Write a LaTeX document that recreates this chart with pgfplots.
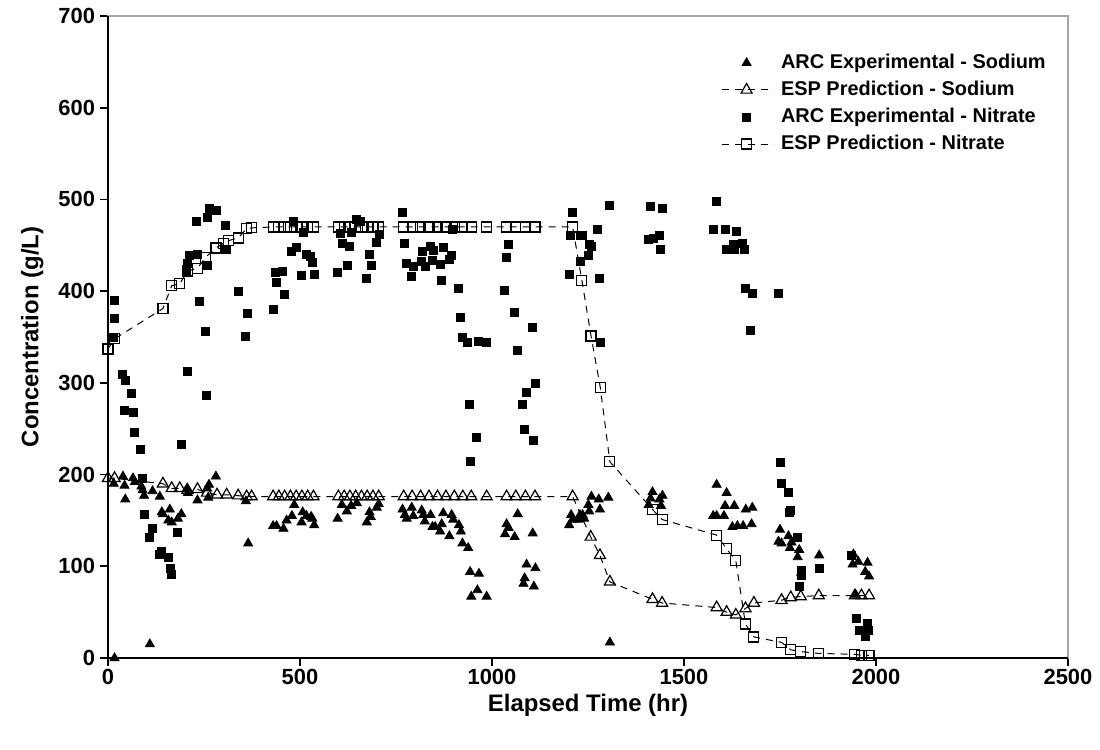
\documentclass[border=0pt]{standalone}
\usepackage{fontspec}
\setmainfont{Liberation Sans}
\usepackage{pgfplots}
\pgfplotsset{compat=1.18}

\pgfplotsset{
  arcmark/.style={only marks, black, mark options={solid}},
  espline/.style={black, line width=0.5bp, dash pattern=on 3.5bp off 3bp,
    mark options={solid, line width=0.6bp}},
}

\begin{document}
\begin{tikzpicture}
\useasboundingbox (-54bp,-46bp) rectangle (496bp,329bp);
\begin{axis}[
  at={(0,0)}, anchor=south west,
  scale only axis, width=480bp, height=321bp,
  xmin=0, xmax=2500, ymin=0, ymax=700,
  xtick distance=500, ytick distance=100,
  tick align=outside, tick pos=left, major tick length=4bp,
  tick style={black, line width=0.8bp},
  axis line style={gray!70, line width=0.8bp},
  clip=false,
  /pgf/number format/assume math mode=true,
  /pgf/number format/1000 sep={},
  tick label style={font=\fontsize{11}{13}\selectfont\bfseries},
  xticklabel style={yshift=2bp},
  yticklabel style={xshift=1bp},
  xlabel={Elapsed Time (hr)},
  ylabel={Concentration (g/L)},
  every axis x label/.style={at={(axis description cs:0.5,-0.073)}, anchor=center,
    font=\fontsize{12}{14}\selectfont\bfseries},
  every axis y label/.style={at={(axis description cs:-0.079,0.5)}, rotate=90, anchor=center,
    font=\fontsize{12}{14}\selectfont\bfseries},
  legend style={draw=none, fill=none, at={(axis description cs:0.632,0.952)}, anchor=north west,
    font=\fontsize{10}{12}\selectfont\bfseries, row sep=1.8bp,
    nodes={inner xsep=1.5bp, inner ysep=1.5bp},
    /tikz/every odd column/.append style={column sep=2bp}},
  legend cell align=left,
  legend image code/.code={\draw[mark repeat=2,mark phase=2,#1]
    plot coordinates {(0bp,0bp)(12.5bp,0bp)(26bp,0bp)};},
]

% ARC Experimental - Sodium
\addplot[arcmark, mark=triangle*, mark size=2.6bp] coordinates {
(17,0) (109,15)
(15,190) (39,198) (43,188) (45,173) (65,196) (70,192) (87,187) (90,183) (94,177)
(116,182) (135,176) (140,159) (143,157) (161,162) (157,150) (166,148) (182,152)
(191,157) (206,185) (208,180) (233,172) (258,185) (263,189) (281,198) (261,175)
(359,171) (365,125)
(430,144) (439,144) (457,141) (465,150) (479,155) (485,167) (504,148) (507,159)
(517,155) (529,154) (532,152) (537,145)
(598,152) (609,167) (622,160) (633,166) (648,169) (674,148) (681,159) (684,154)
(700,164) (705,168)
(767,162) (773,156) (778,152) (791,164) (795,155) (817,161) (821,156) (825,149)
(840,156) (845,143) (852,143) (865,138) (869,146) (873,158) (889,133) (895,156)
(899,151) (914,145) (919,138) (923,125) (938,120) (943,94) (966,92) (962,74)
(946,67) (986,67)
(1034,135) (1038,146) (1043,142) (1059,132) (1067,157) (1106,136) (1090,102)
(1113,98) (1085,87) (1082,81) (1109,78)
(1201,145) (1206,156) (1210,151) (1225,151) (1229,156) (1236,156) (1240,152)
(1253,160) (1251,167) (1259,176) (1278,173) (1281,162) (1303,175) (1307,17)
(1418,181) (1413,174) (1436,173) (1444,177) (1408,167) (1440,166)
(1585,189) (1611,180) (1607,166) (1631,166) (1661,162) (1678,164) (1576,155)
(1585,155) (1604,155) (1626,143) (1639,144) (1654,144) (1676,146)
(1750,140) (1746,127) (1754,125) (1772,133) (1780,126) (1776,120) (1800,118)
(1796,110) (1805,93) (1852,112)
(1941,113) (1954,105) (1939,102) (1978,104) (1972,94) (1982,89) (1947,69)
};
\addlegendentry{ARC Experimental - Sodium}

% ESP Prediction - Sodium
\addplot[espline, mark=triangle, mark size=3.2bp] coordinates {
(0,196) (17,196) (143,190) (166,185) (187,185) (207,183) (233,184) (258,180)
(284,178) (309,178) (339,177) (361,176) (374,176)
(430,176) (445,176) (460,176) (475,176) (490,176) (505,176) (520,176) (535,176)
(600,176) (615,176) (630,176) (645,176) (660,176) (675,176) (690,176) (705,176)
(770,176) (792,176) (814,176) (836,176) (858,176) (880,176) (902,176) (924,176)
(946,176) (986,176) (1038,176) (1062,176) (1087,176) (1112,176) (1210,176)
(1257,132) (1281,112) (1307,83) (1418,64) (1443,60) (1585,55) (1611,50)
(1635,47) (1660,54) (1682,60) (1754,63) (1778,66) (1804,67) (1851,68)
(1945,68) (1962,68) (1982,68)
};
\addlegendentry{ESP Prediction - Sodium}

% ARC Experimental - Nitrate
\addplot[arcmark, mark=square*, mark size=2bp] coordinates {
(17,390) (17,370) (15,350) (37,309) (45,303) (61,289) (42,270) (65,268) (70,246)
(84,227) (90,196) (94,157) (116,141) (109,132) (139,116) (135,113) (157,110)
(163,98) (166,91) (182,137) (191,233) (206,313) (257,286) (237,389) (253,356)
(204,421) (207,430) (211,439) (233,440) (259,428) (230,476) (260,480) (263,490)
(283,488) (305,472) (309,445)
(339,400) (364,376) (358,351)
(430,380) (439,410) (435,420) (455,421) (459,397) (478,443) (490,448) (483,476)
(509,464) (504,417) (537,418) (516,440) (526,438) (532,431)
(598,420) (604,463) (610,452) (623,428) (628,449) (633,464) (648,478) (656,476)
(674,414) (680,440) (685,428) (700,453) (706,462)
(766,486) (772,452) (778,430) (791,416) (795,427) (817,432) (819,443) (826,427)
(839,449) (845,433) (847,444) (865,429) (869,412) (873,448) (889,435) (893,439)
(898,467) (912,403)
(918,371) (922,350) (937,344) (965,345) (985,344) (941,276) (960,240) (945,214)
(1032,401) (1038,437) (1043,451) (1058,377) (1066,335) (1105,360) (1113,299)
(1089,290) (1080,277) (1085,249) (1109,237)
(1201,418) (1205,461) (1210,486) (1229,432) (1229,461) (1235,461) (1251,439)
(1253,451) (1259,449) (1275,467) (1279,414) (1282,344) (1305,494)
(1407,456) (1413,492) (1420,458) (1435,461) (1439,445) (1443,490)
(1576,467) (1585,498) (1607,467) (1611,446) (1628,451) (1631,446) (1637,465)
(1652,452) (1656,446) (1661,403) (1678,398) (1674,357) (1745,398)
(1750,213) (1754,190) (1772,181) (1778,161) (1774,159) (1795,131) (1805,96)
(1805,90) (1800,78) (1852,98)
(1937,112) (1950,43) (1978,38) (1957,30) (1980,30) (1973,24)
};
\addlegendentry{ARC Experimental - Nitrate}

% ESP Prediction - Nitrate
\addplot[espline, mark=square, mark size=2.5bp] coordinates {
(0,337) (17,348) (143,381) (166,406) (187,408) (207,422) (233,425) (254,437)
(281,447) (300,452) (313,455) (339,458) (361,468) (374,469)
(430,470) (445,470) (460,470) (475,470) (490,470) (505,470) (520,470) (535,470)
(600,470) (615,470) (630,470) (645,470) (660,470) (675,470) (690,470) (705,470)
(770,470) (792,470) (814,470) (836,470) (858,470) (880,470) (902,470) (924,470)
(946,470) (986,470) (1038,470) (1062,470) (1087,470) (1112,470) (1210,470)
(1234,412) (1258,351) (1282,295) (1307,214) (1418,162) (1443,151) (1585,134)
(1611,119) (1635,106) (1660,37) (1682,23) (1754,17) (1778,9) (1804,7) (1851,5)
(1945,4) (1962,3) (1982,3)
};
\addlegendentry{ESP Prediction - Nitrate}

\draw[black, line width=0.9bp] (rel axis cs:0,1) -- (rel axis cs:0,0) -- (rel axis cs:1,0);
\end{axis}
\end{tikzpicture}
\end{document}
